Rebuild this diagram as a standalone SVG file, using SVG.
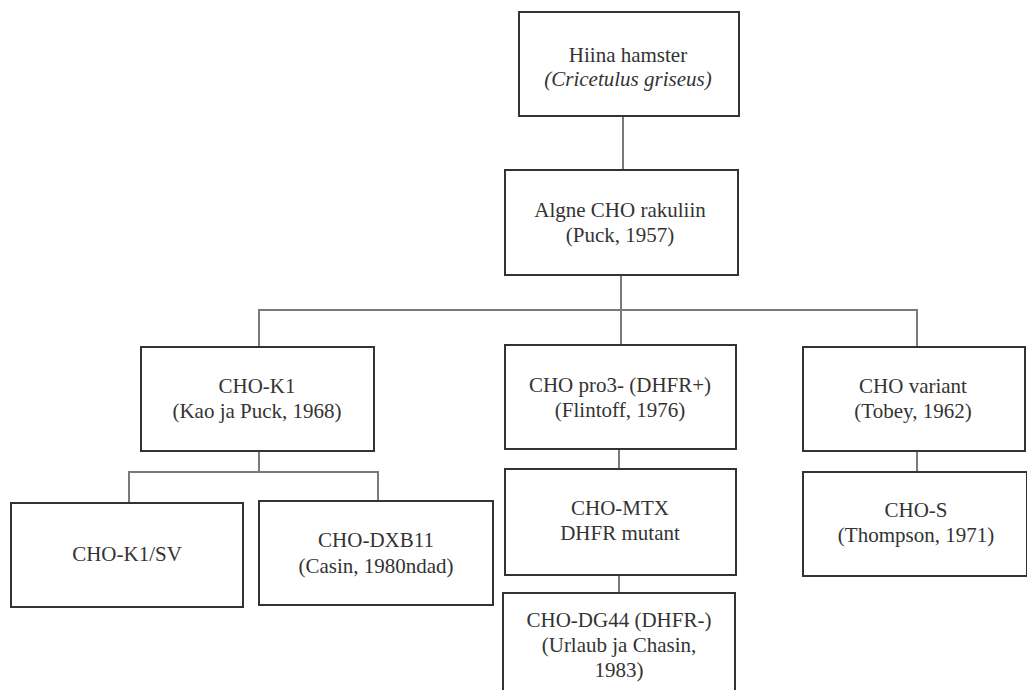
<svg xmlns="http://www.w3.org/2000/svg" width="1027" height="690" viewBox="0 0 1027 690">
<style>
.box{fill:#fff;stroke:#333;stroke-width:2}
.t{font-family:'Liberation Serif','Times New Roman',Tinos,'DejaVu Serif',serif;font-size:21px;fill:#333;text-anchor:middle}
.i{font-style:italic}
.c{stroke:#7a7a7a;stroke-width:2;fill:none}
</style>
<rect width="1027" height="690" fill="#fff"/>
<g id="connectors">
<path class="c" d="M623 116V170"/>
<path class="c" d="M621 275V310"/>
<path class="c" d="M259 347V310H917V347"/>
<path class="c" d="M621 310V345"/>
<path class="c" d="M259 451V472"/>
<path class="c" d="M129 503V472H378V501"/>
<path class="c" d="M619 449V469"/>
<path class="c" d="M619 575V593"/>
<path class="c" d="M917 451V472"/>
</g>
<g font-family="Liberation Serif, Times New Roman, serif">
<g id="hamster">
<rect class="box" x="519" y="12" width="220" height="104"/>
<text class="t" x="628" y="62">Hiina hamster</text>
<text class="t i" x="628" y="86">(Cricetulus griseus)</text>
</g>
<g id="algne">
<rect class="box" x="505" y="170" width="233" height="105"/>
<text class="t" x="620" y="217">Algne CHO rakuliin</text>
<text class="t" x="620" y="242">(Puck, 1957)</text>
</g>
<g id="chok1">
<rect class="box" x="141" y="347" width="233" height="104"/>
<text class="t" x="257" y="393">CHO-K1</text>
<text class="t" x="257" y="418">(Kao ja Puck, 1968)</text>
</g>
<g id="pro3">
<rect class="box" x="505" y="345" width="231" height="104"/>
<text class="t" x="620" y="392">CHO pro3- (DHFR+)</text>
<text class="t" x="620" y="417">(Flintoff, 1976)</text>
</g>
<g id="variant">
<rect class="box" x="803" y="347" width="222" height="104"/>
<text class="t" x="913" y="393">CHO variant</text>
<text class="t" x="913" y="418">(Tobey, 1962)</text>
</g>
<g id="k1sv">
<rect class="box" x="11" y="503" width="232" height="104"/>
<text class="t" x="127" y="561">CHO-K1/SV</text>
</g>
<g id="dxb11">
<rect class="box" x="259" y="501" width="234" height="104"/>
<text class="t" x="376" y="547">CHO-DXB11</text>
<text class="t" x="376" y="573">(Casin, 1980ndad)</text>
</g>
<g id="mtx">
<rect class="box" x="505" y="469" width="231" height="106"/>
<text class="t" x="620" y="515">CHO-MTX</text>
<text class="t" x="620" y="540">DHFR mutant</text>
</g>
<g id="chos">
<rect class="box" x="803" y="472" width="224" height="104"/>
<text class="t" x="916" y="517">CHO-S</text>
<text class="t" x="916" y="542">(Thompson, 1971)</text>
</g>
<g id="dg44">
<rect class="box" x="503" y="593" width="232" height="110"/>
<text class="t" x="619" y="627">CHO-DG44 (DHFR-)</text>
<text class="t" x="619" y="652">(Urlaub ja Chasin,</text>
<text class="t" x="619" y="677">1983)</text>
</g>
</g>
</svg>
